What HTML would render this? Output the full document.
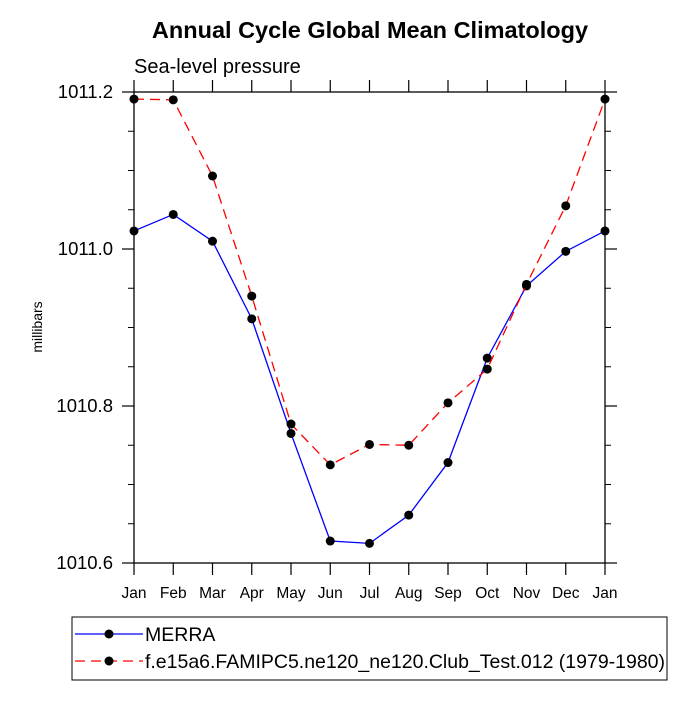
<!DOCTYPE html>
<html><head><meta charset="utf-8"><style>
body{margin:0;background:#fff;}
text{font-family:"Liberation Sans",Arial,sans-serif;}
</style></head><body>
<svg id="chart" width="699" height="699" viewBox="0 0 699 699" xmlns="http://www.w3.org/2000/svg">
<text x="370" y="38" text-anchor="middle" font-size="23.5" font-weight="bold">Annual Cycle Global Mean Climatology</text>
<text x="134" y="73" font-size="20">Sea-level pressure</text>
<text transform="translate(42,327) rotate(-90)" text-anchor="middle" font-size="14">millibars</text>
<g id="axes"></g>
<g id="series"></g>
<g>
<rect x="72" y="617" width="595" height="63" fill="none" stroke="#000" stroke-width="1"/>
<g>
<line x1="75" y1="634" x2="143" y2="634" stroke="#0000ff" stroke-width="1.3"/>
<circle cx="109" cy="634" r="4.5" fill="#000"/>
<text x="145" y="641" font-size="19.5">MERRA</text>
</g>
<g>
<line x1="75" y1="661" x2="143" y2="661" stroke="#ff0000" stroke-width="1.3" stroke-dasharray="10,6"/>
<circle cx="109" cy="661" r="4.5" fill="#000"/>
<text x="145" y="668" font-size="19.5" textLength="520">f.e15a6.FAMIPC5.ne120_ne120.Club_Test.012 (1979-1980)</text>
</g>
</g>
</svg>
<script>
const months = ["Jan","Feb","Mar","Apr","May","Jun","Jul","Aug","Sep","Oct","Nov","Dec","Jan"];
const merra = [1011.023,1011.044,1011.010,1010.911,1010.765,1010.628,1010.625,1010.661,1010.728,1010.861,1010.953,1010.997,1011.023];
const model = [1011.191,1011.190,1011.093,1010.940,1010.777,1010.725,1010.751,1010.750,1010.804,1010.847,1010.955,1011.055,1011.191];
const yTicks = [1010.6,1010.8,1011.0,1011.2];
const yTickLabels = ["1010.6","1010.8","1011.0","1011.2"];
const yMinor = [1010.65,1010.7,1010.75,1010.85,1010.9,1010.95,1011.05,1011.1,1011.15];

const L=134,R=605,T=92,B=563,yMin=1010.6,yMax=1011.2;
const x=i=>L+(R-L)*i/(months.length-1);
const y=v=>B-(B-T)*(v-yMin)/(yMax-yMin);
const NS="http://www.w3.org/2000/svg";
function mk(tag,attrs,parent){const e=document.createElementNS(NS,tag);for(const k in attrs)e.setAttribute(k,attrs[k]);parent.appendChild(e);return e;}
const axes=document.getElementById('axes'),series=document.getElementById('series');
const frame=mk('rect',{x:L,y:T,width:R-L,height:B-T,fill:'none',stroke:'#000','stroke-width':1.3},axes);


months.forEach((m,i)=>{
  const t1=mk('line',{x1:x(i),y1:B,x2:x(i),y2:B+12,stroke:'#000','stroke-width':1.2},axes);
  
  
  const t2=mk('line',{x1:x(i),y1:T,x2:x(i),y2:T-12,stroke:'#000','stroke-width':1.2},axes);
  
  
  const lb=mk('text',{x:x(i),y:B+35,'text-anchor':'middle','font-size':15.5},axes);
  lb.textContent=m;
  
  
});
yTicks.forEach((v,i)=>{
  const a=mk('line',{x1:L-12,y1:y(v),x2:L,y2:y(v),stroke:'#000','stroke-width':1.2},axes);
  
  
  const b=mk('line',{x1:R,y1:y(v),x2:R+12,y2:y(v),stroke:'#000','stroke-width':1.2},axes);
  
  
  const lb=mk('text',{x:L-21,y:y(v)+6,'text-anchor':'end','font-size':18.5},axes);
  lb.textContent=yTickLabels[i];
  
  
});
yMinor.forEach(v=>{
  const a=mk('line',{x1:L-6,y1:y(v),x2:L,y2:y(v),stroke:'#000','stroke-width':1},axes);
  
  
  const b=mk('line',{x1:R,y1:y(v),x2:R+6,y2:y(v),stroke:'#000','stroke-width':1},axes);
  
  
});
function draw(vals,color,dash,name){
  const pl=mk('polyline',{points:vals.map((v,i)=>x(i)+','+y(v)).join(' '),fill:'none',stroke:color,'stroke-width':1.3,'stroke-dasharray':dash},series);
  
  
  vals.forEach((v,i)=>{
    const c=mk('circle',{cx:x(i),cy:y(v),r:4.5,fill:'#000'},series);
    
    
  });
}
draw(merra,'#0000ff','none','merra');
draw(model,'#ff0000','10,6','model');
</script>
</body></html>
